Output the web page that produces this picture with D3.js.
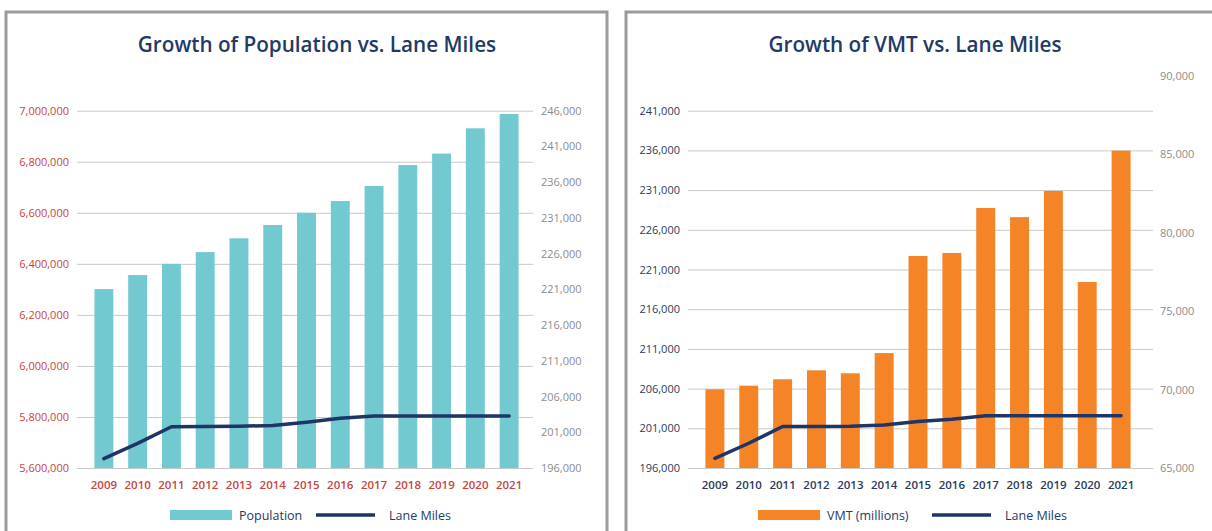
<!DOCTYPE html>
<html>
<head>
<meta charset="utf-8">
<script src="https://cdn.jsdelivr.net/npm/d3@7"></script>
<style>
  body { margin: 0; background: #fff; }
  text { font-family: "Open Sans", sans-serif; }
</style>
</head>
<body>
<div id="container"></div>
<script>
let w = 1212;
let h = 531;

// data
let years = ["2009","2010","2011","2012","2013","2014","2015","2016","2017","2018","2019","2020","2021"];
let population = [6301000, 6356000, 6400000, 6446000, 6500000, 6552000, 6600000, 6646000, 6705000, 6787000, 6832000, 6931000, 6987000];
let laneMilesPop = [197300, 199450, 201780, 201800, 201850, 201950, 202400, 202950, 203280, 203280, 203280, 203280, 203280];
let vmt = [70020, 70250, 70660, 71230, 71040, 72330, 78520, 78710, 81580, 81000, 82670, 76860, 85240];
let laneMilesVmt = [197210, 199120, 201220, 201220, 201260, 201430, 201850, 202150, 202570, 202570, 202570, 202570, 202570];

let popTicks = [5600000, 5800000, 6000000, 6200000, 6400000, 6600000, 6800000, 7000000];
let laneTicksPop = [196000, 201000, 206000, 211000, 216000, 221000, 226000, 231000, 236000, 241000, 246000];
let laneTicksVmt = [196000, 201000, 206000, 211000, 216000, 221000, 226000, 231000, 236000, 241000];
let vmtTicks = [65000, 70000, 75000, 80000, 85000, 90000];

let navy = "#1e3566";
let fmt = d3.format(",");

let viz = d3.select("#container")
  .append("svg")
    .attr("width", w)
    .attr("height", h)
    .style("background-color", "white");

function drawPanel(p) {
  let g = viz.append("g");

  // frame
  g.append("rect")
    .attr("x", p.frameX).attr("y", 12)
    .attr("width", p.frameW).attr("height", 540)
    .attr("fill", "none").attr("stroke", "#9b9b9b").attr("stroke-width", 3);

  g.append("text")
    .attr("x", p.titleX).attr("y", 52)
    .attr("text-anchor", "middle")
    .attr("font-size", 20.7).attr("font-weight", 600)
    .attr("fill", "#233a66")
    .text(p.title);

  let xScale = d3.scaleBand().domain(years).range(p.xRange).paddingInner(0.44).paddingOuter(0.22);
  let yLeft = d3.scaleLinear().domain(p.leftDomain).range([468, p.leftTop]);
  let yRight = d3.scaleLinear().domain(p.rightDomain).range([468, p.rightTop]);
  let yBars = p.barsOnLeft ? yLeft : yRight;
  let yLine = p.barsOnLeft ? yRight : yLeft;

  // gridlines for the left axis
  let leftAxis = d3.axisLeft(yLeft).tickValues(p.leftTicks).tickFormat(fmt)
    .tickSize(-(p.gridEnd - p.gridStart)).tickPadding(8);
  let leftG = g.append("g").attr("transform", "translate(" + p.gridStart + ",0)").call(leftAxis);
  leftG.select(".domain").remove();
  leftG.selectAll(".tick line").attr("stroke", "#c9c9c9");
  leftG.selectAll(".tick text").attr("fill", p.leftColor).attr("font-size", 11)
    .style("font-family", "'Open Sans', sans-serif");

  let rightAxis = d3.axisRight(yRight).tickValues(p.rightTicks).tickFormat(fmt).tickSize(0).tickPadding(0);
  let rightG = g.append("g").attr("transform", "translate(" + p.rightLabelX + ",0)").call(rightAxis);
  rightG.select(".domain").remove();
  rightG.selectAll(".tick text").attr("fill", "#8c8c8c").attr("font-size", 11)
    .style("font-family", "'Open Sans', sans-serif");

  g.selectAll(".bar").data(p.bars).enter().append("rect")
    .attr("x", function(d, i){ return xScale(years[i]); })
    .attr("y", function(d){ return yBars(d); })
    .attr("width", xScale.bandwidth())
    .attr("height", function(d){ return 468 - yBars(d); })
    .attr("fill", p.barColor);

  let line = d3.line()
    .x(function(d, i){ return xScale(years[i]) + xScale.bandwidth() / 2; })
    .y(function(d){ return yLine(d); });
  g.append("path").datum(p.line)
    .attr("d", line).attr("fill", "none")
    .attr("stroke", navy).attr("stroke-width", 3.5)
    .attr("stroke-linejoin", "round").attr("stroke-linecap", "round");

  let xAxis = d3.axisBottom(xScale).tickSize(0).tickPadding(13);
  let xG = g.append("g").attr("transform", "translate(0,468)").call(xAxis);
  xG.select(".domain").remove();
  xG.selectAll(".tick text").attr("fill", p.xColor).attr("font-size", 11.5).attr("font-weight", 600)
    .style("font-family", "'Open Sans', sans-serif");

  // legend
  let lg = g.append("g").attr("transform", "translate(" + p.legendX + ",515)");
  lg.append("rect").attr("x", 0).attr("y", -5).attr("width", 62).attr("height", 10).attr("fill", p.barColor);
  lg.append("text").attr("x", 69).attr("y", 5).attr("font-size", 12.5).attr("fill", "#233a66").text(p.barName);
  lg.append("line").attr("x1", p.legendLineX).attr("x2", p.legendLineX + 59).attr("y1", 0).attr("y2", 0)
    .attr("stroke", navy).attr("stroke-width", 3.5);
  lg.append("text").attr("x", p.legendLineX + 73).attr("y", 5).attr("font-size", 12.5).attr("fill", "#233a66").text("Lane Miles");
}

drawPanel({
  frameX: 6, frameW: 601,
  title: "Growth of Population vs. Lane Miles", titleX: 317,
  xRange: [87, 526],
  leftDomain: [5600000, 7000000], leftTop: 110.7, leftTicks: popTicks, leftColor: "#c8443c",
  rightDomain: [196000, 246000], rightTop: 110.7, rightTicks: laneTicksPop, rightLabelX: 541,
  barsOnLeft: true,
  bars: population, line: laneMilesPop,
  barColor: "#72c9cf", xColor: "#c8443c",
  gridStart: 77, gridEnd: 533,
  legendX: 170, barName: "Population", legendLineX: 146
});

drawPanel({
  frameX: 626, frameW: 600,
  title: "Growth of VMT vs. Lane Miles", titleX: 915,
  xRange: [698, 1138],
  leftDomain: [196000, 241000], leftTop: 110.7, leftTicks: laneTicksVmt, leftColor: "#2b3a5c",
  rightDomain: [65000, 90000], rightTop: 76, rightTicks: vmtTicks, rightLabelX: 1160,
  barsOnLeft: false,
  bars: vmt, line: laneMilesVmt,
  barColor: "#f58427", xColor: "#2b3a5c",
  gridStart: 688, gridEnd: 1153,
  legendX: 758, barName: "VMT (millions)", legendLineX: 174
});
</script>
</body>
</html>
